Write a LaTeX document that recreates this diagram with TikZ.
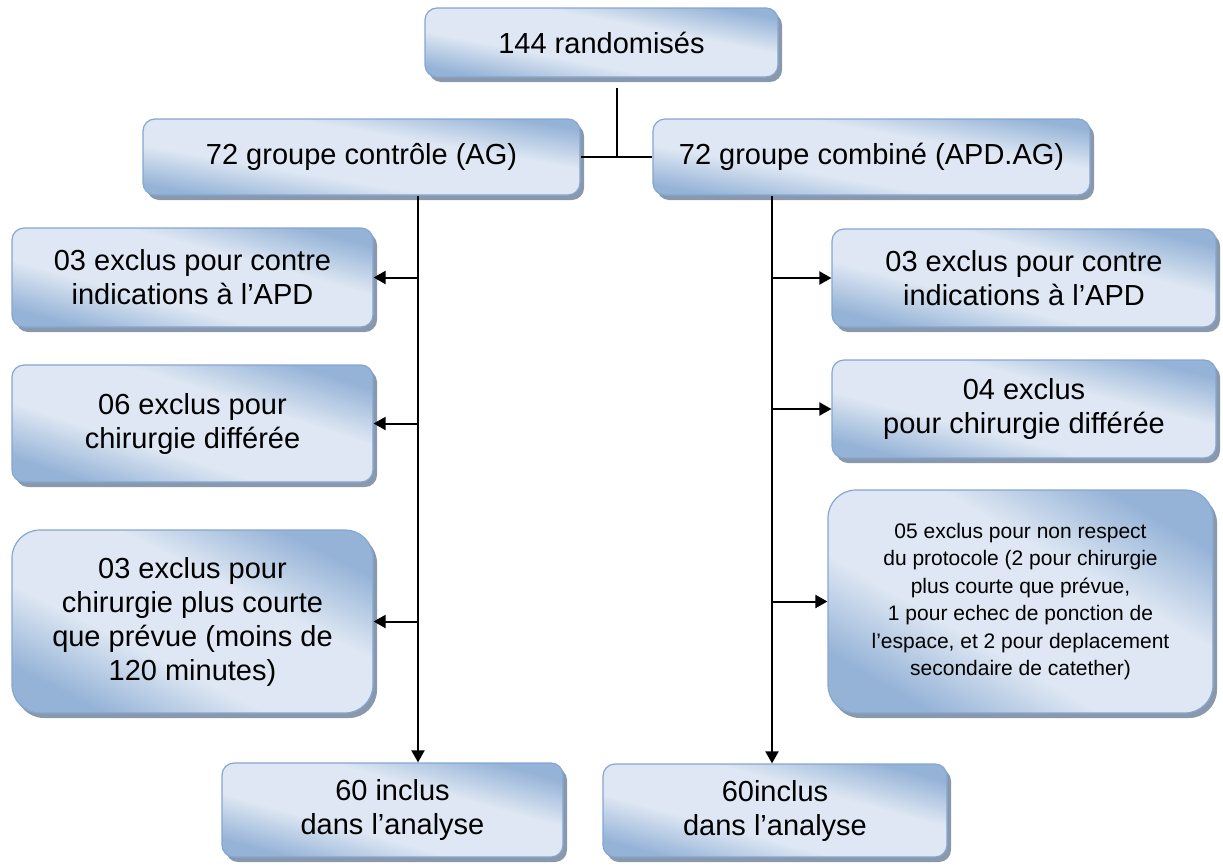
\documentclass[tikz,border=0pt]{standalone}
\usepackage{fontspec}
\setmainfont{Liberation Sans}
\usetikzlibrary{arrows.meta,shadows}
\definecolor{bdark}{RGB}{149,179,215}
\definecolor{blight}{RGB}{222,231,243}
\definecolor{bborder}{RGB}{132,166,210}
\definecolor{bshadow}{RGB}{138,152,172}
\pgfdeclarehorizontalshading{boxshade}{100bp}{color(0bp)=(bdark); color(25bp)=(bdark); color(40bp)=(blight); color(60bp)=(blight); color(75bp)=(bdark); color(100bp)=(bdark)}
\tikzset{
 box/.style={draw=bborder, line width=1.2pt, rounded corners=12pt,
   shading=boxshade,
   align=center, inner sep=0pt, font=\fontsize{29}{34}\selectfont,
   drop shadow={shadow xshift=4pt, shadow yshift=-5pt, fill=bshadow, opacity=1}},
 bigbox/.style={box, rounded corners=28pt},
 conn/.style={line width=2pt, black},
 arr/.style={conn, -{Triangle[length=12pt,width=13pt]}},
}
\begin{document}
\begin{tikzpicture}[x=1pt,y=-1pt]
\useasboundingbox (0,0) rectangle (1223,865);
\node[box, shading angle=78.94, minimum width=353pt, minimum height=69pt] (top) at (601.5,42.5) {144 randomisés};
\node[box, shading angle=80.13, minimum width=437pt, minimum height=76pt] (gL) at (361.5,157) {72 groupe contrôle (AG)};
\node[box, shading angle=80.13, minimum width=437pt, minimum height=76pt] (gR) at (871.5,157) {72 groupe combiné (APD.AG)};

\node[box, shading angle=74.67, minimum width=361pt, minimum height=99pt] (exL1) at (192.5,277.5) {03 exclus pour contre\\indications à l’APD};
\node[box, shading angle=72.04, minimum width=361pt, minimum height=117pt] (exL2) at (192.5,423.5) {06 exclus pour\\chirurgie différée};
\node[bigbox, shading angle=63.12, minimum width=361pt, minimum height=183pt] (exL3) at (192.5,621.5) {03 exclus pour\\chirurgie plus courte\\que prévue (moins de\\120 minutes)};

\node[box, shading angle=75.68, minimum width=384pt, minimum height=98pt] (exR1) at (1024,278) {03 exclus pour contre\\indications à l’APD};
\node[box, shading angle=75.68, minimum width=384pt, minimum height=98pt] (exR2) at (1024,409) {04 exclus\\pour chirurgie différée};
\node[bigbox, shading angle=59.92, minimum width=385pt, minimum height=223pt, font=\fontsize{21}{27.5}\selectfont] (exR3) at (1020.5,601.5) {05 exclus pour non respect\\du protocole (2 pour chirurgie\\plus courte que prévue,\\1 pour echec de ponction de\\l’espace, et 2 pour deplacement\\secondaire de catether)};

\node[box, shading angle=74.59, minimum width=341pt, minimum height=94pt] (bL) at (392.5,810) {60 inclus\\dans l’analyse};
\node[box, shading angle=74.87, minimum width=344pt, minimum height=93pt] (bR) at (775,810.5) {60inclus\\dans l’analyse};

\coordinate (jx) at (617,157);
\coordinate (lx) at (418,0);
\coordinate (rx) at (772,0);
\draw[conn] ([yshift=-10pt]top.south -| jx) -- (jx);
\draw[conn] (gL.east) -- (gR.west);
\draw[arr] (gL.south -| lx) -- (bL.north -| lx);
\draw[arr] (gR.south -| rx) -- (bR.north -| rx);
\draw[arr] (exL1.east -| lx) -- (exL1.east);
\draw[arr] (exL2.east -| lx) -- (exL2.east);
\draw[arr] (exL3.east -| lx) -- (exL3.east);
\draw[arr] (exR1.west -| rx) -- (exR1.west);
\draw[arr] (exR2.west -| rx) -- (exR2.west);
\draw[arr] (exR3.west -| rx) -- (exR3.west);
\end{tikzpicture}
\end{document}
